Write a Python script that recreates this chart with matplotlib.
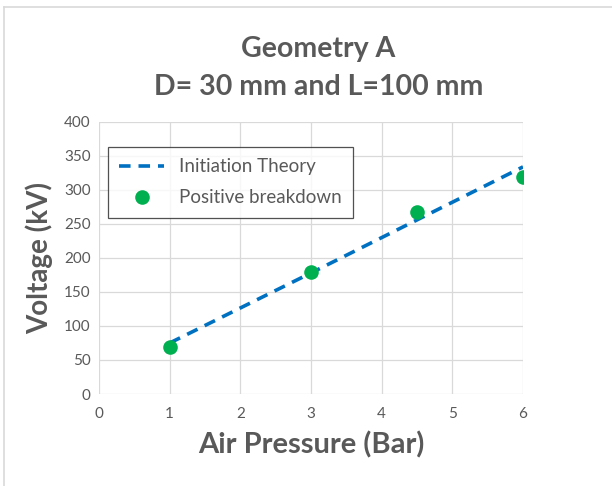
import matplotlib
matplotlib.use("Agg")
import matplotlib.pyplot as plt
from matplotlib.lines import Line2D

# data
pressure_theory = [1, 3, 4.5, 6]
voltage_theory = [75, 178, 256, 334]
pressure_meas = [1, 3, 4.5, 6]
voltage_meas = [69, 179, 268, 319]

GRAY = "#595959"
GRID = "#d9d9d9"

plt.rcParams["font.family"] = ["Lato", "DejaVu Sans"]

fig = plt.figure(figsize=(6.12, 4.86), dpi=100)
ax = fig.add_axes([0.1618, 0.1893, 0.6928, 0.5597])

ax.plot(pressure_theory, voltage_theory, ls=(0, (3.2, 2.2)), color="#0070C0",
        lw=2.6, label="Initiation Theory", zorder=3)
ax.plot(pressure_meas, voltage_meas, "o", color="#00B050", ms=10.5,
        mec="none", label="Positive breakdown", zorder=4)

ax.set_xlim(0, 6)
ax.set_ylim(0, 400)
ax.set_xticks(range(0, 7))
ax.set_yticks(range(0, 401, 50))
ax.grid(True, color=GRID, lw=0.9)
ax.set_axisbelow(True)
for s in ax.spines.values():
    s.set_visible(False)
ax.tick_params(length=0, colors=GRAY, labelsize=11, pad=6)
ax.tick_params(axis="x", pad=9)

ax.set_xlabel("Air Pressure (Bar)", fontsize=21, fontweight="bold",
              color=GRAY, labelpad=8)
ax.set_ylabel("Voltage (kV)", fontsize=20, fontweight="bold",
              color=GRAY, labelpad=8)

fig.text(0.52, 0.90, "Geometry A", ha="center", va="center",
         fontsize=20.5, fontweight="bold", color=GRAY)
fig.text(0.52, 0.822, "D= 30 mm and L=100 mm", ha="center", va="center",
         fontsize=20.5, fontweight="bold", color=GRAY)

leg = ax.legend(loc="upper left", bbox_to_anchor=(0.021, 0.908),
                fontsize=13.5, frameon=True, fancybox=False,
                borderpad=0.6, labelspacing=0.75, handlelength=2.4,
                borderaxespad=0)
leg.get_frame().set_edgecolor("#262626")
leg.get_frame().set_linewidth(0.9)
for t in leg.get_texts():
    t.set_color(GRAY)

# outer chart border (left and top visible in the reference)
fig.add_artist(Line2D([0.0065, 0.0065], [0, 0.986], color=GRID, lw=1.2,
                      transform=fig.transFigure))
fig.add_artist(Line2D([0.0065, 1], [0.986, 0.986], color=GRID, lw=1.2,
                      transform=fig.transFigure))

fig.savefig("out.png", dpi=100)
